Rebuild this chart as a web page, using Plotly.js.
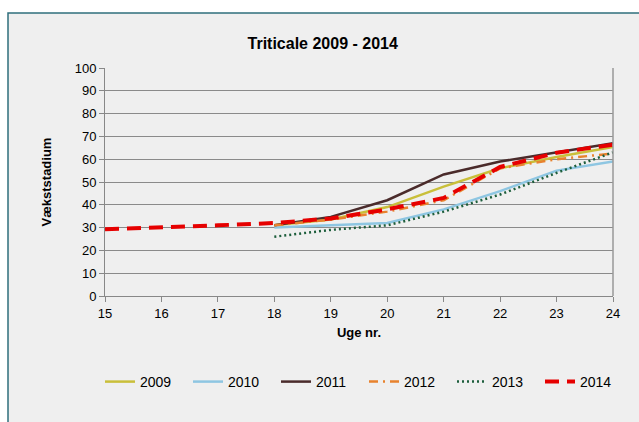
<!DOCTYPE html>
<html><head><meta charset="utf-8">
<script src="https://cdn.plot.ly/plotly-3.0.1.min.js"></script>
<style>html,body{margin:0;padding:0;background:#fff}#c{width:639px;height:422px}</style>
</head><body><div id="c"></div>
<script>
const weeks = [15,16,17,18,19,20,21,22,23,24];
const weeksShort = [18,19,20,21,22,23,24];
const v2009 = [31,33.6,39,48,56,61,65.4];
const v2010 = [30,31,32,38,46,55,59];
const v2011 = [31,34.7,42,53.3,59,63,67];
const v2012 = [31,33.5,37,42,56,60,62.5];
const v2013 = [26,29,31,37,44.5,54,63];
const v2014 = [29.3,30,31,32,34,38,43,56.6,62.8,66.4];
const yTicks = [0,10,20,30,40,50,60,70,80,90,100];

const traces = [
 {name:'2009', x:weeksShort, y:v2009, line:{color:'#c9bf3a', width:2.5}},
 {name:'2010', x:weeksShort, y:v2010, line:{color:'#8ec6e2', width:2.5}},
 {name:'2011', x:weeksShort, y:v2011, line:{color:'#4a2b2b', width:2.5}},
 {name:'2012', x:weeksShort, y:v2012, line:{color:'#e8822e', width:2.5, dash:'9px,5px,2px,5px'}},
 {name:'2013', x:weeksShort, y:v2013, line:{color:'#1d5e3c', width:2.5, dash:'2px,3px'}},
 {name:'2014', x:weeks, y:v2014, line:{color:'#e60000', width:4, dash:'14px,8px'}}
].map(t => Object.assign({type:'scatter', mode:'lines'}, t));

const L=105, R=613, T=68, B=296;
const W=B-T, PW=R-L;
const layout = {
 width:639, height:422,
 margin:{l:L, r:639-R, t:T, b:422-B, pad:0},
 paper_bgcolor:'#ffffff', plot_bgcolor:'rgba(0,0,0,0)',
 font:{family:'Liberation Sans, Arial, sans-serif', size:13, color:'#000'},
 title:{text:'<b>Triticale 2009 - 2014</b>', font:{size:16, family:'Liberation Sans, Arial, sans-serif'}, x:0.505, xanchor:'center', y:1-43/422, yanchor:'middle'},
 xaxis:{range:[15,24], tickmode:'array', tickvals:weeks, ticks:'outside', ticklen:5, tickcolor:'#888', showline:true, linecolor:'#888', linewidth:1, showgrid:false, zeroline:false, mirror:false,
   title:{text:'<b>Uge nr.</b>', font:{size:13}, standoff:8}},
 yaxis:{range:[0,100], tickmode:'array', tickvals:yTicks, ticks:'outside', ticklen:5, tickcolor:'#888', showline:true, linecolor:'#888', linewidth:1, gridcolor:'#8a8a8a', gridwidth:1, zeroline:false,
   title:{text:'<b>Vækststadium</b>', font:{size:13}, standoff:20}},
 legend:{orientation:'h', x:(100-L)/PW, xanchor:'left', y:(B-382)/W, yanchor:'middle', entrywidth:43, entrywidthmode:'pixels', itemwidth:30, font:{size:14}, bgcolor:'rgba(0,0,0,0)', traceorder:'normal'},
 showlegend:true,
 shapes:[
  {type:'rect', xref:'paper', yref:'paper', layer:'below', x0:(8-L)/PW, x1:(660-L)/PW, y0:(B-440)/W, y1:(B-13)/W, fillcolor:'#efefef', line:{color:'#2f6f7c', width:1.5}},
  {type:'line', xref:'paper', yref:'paper', layer:'above', x0:1, x1:1, y0:0, y1:1, line:{color:'#999', width:1.5}}
 ]
};
Plotly.newPlot('c', traces, layout, {staticPlot:true, displayModeBar:false});
</script></body></html>
